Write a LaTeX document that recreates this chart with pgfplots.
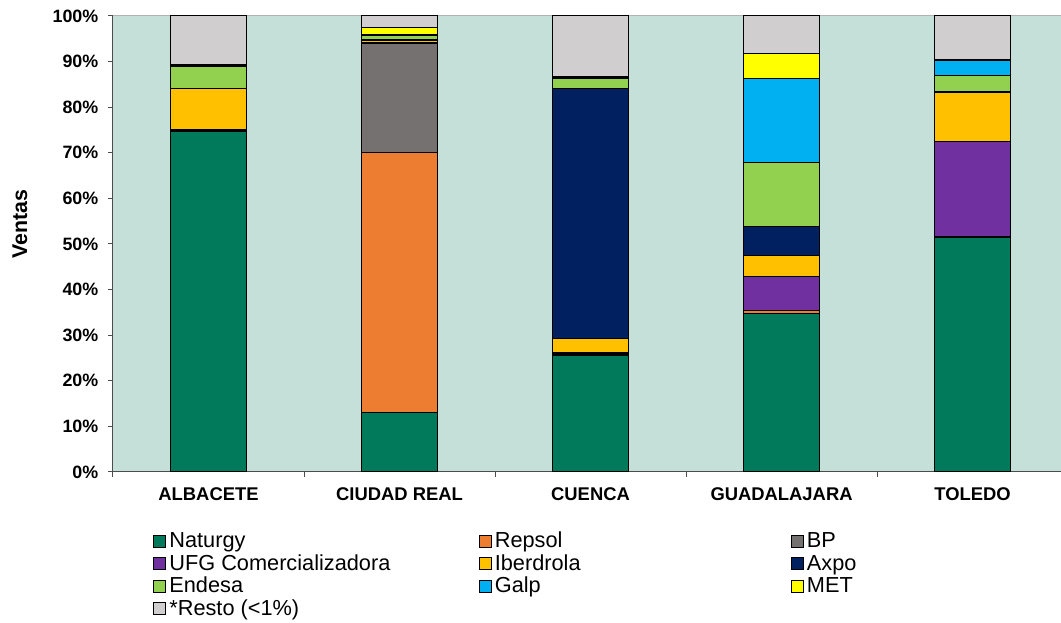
\documentclass[border=0pt]{standalone}
\usepackage{pgfplots}
\pgfplotsset{compat=1.18}
\usepackage{pgfplotstable}
\usepackage{fontspec}
\setmainfont{Liberation Sans}
\definecolor{bgc}{RGB}{197,224,216}
\definecolor{cNat}{RGB}{0,122,90}
\definecolor{cRep}{RGB}{237,125,49}
\definecolor{cBP}{RGB}{118,113,113}
\definecolor{cUFG}{RGB}{112,48,160}
\definecolor{cIbe}{RGB}{255,192,0}
\definecolor{cAxp}{RGB}{0,32,96}
\definecolor{cEnd}{RGB}{146,208,80}
\definecolor{cGal}{RGB}{0,176,240}
\definecolor{cMET}{RGB}{255,255,0}
\definecolor{cRes}{RGB}{208,206,206}

\pgfplotstableread{
x Naturgy Repsol BP UFG Iberdrola Axpo Endesa Galp MET Resto
0 74.6 0.2 0.1 0.2 9.0 0.1 4.8 0.2 0.1 10.7
1 13.0 57.1 23.8 0.3 0.4 0.3 0.8 0.2 1.5 2.6
2 25.6 0.2 0.1 0.2 3.2 54.8 2.2 0.3 0.2 13.2
3 34.8 0.6 0.0 7.4 4.6 6.5 14.0 18.3 5.6 8.2
4 51.4 0.2 0.1 20.8 10.8 0.1 3.5 3.4 0.1 9.6
}\datatable

\newcommand{\LE}[2]{\hspace{2.5pt}\makebox[#1][l]{#2}}

\begin{document}
\begin{tikzpicture}
\begin{axis}[
  scale only axis,
  width=711pt, height=342pt,
  xmin=-0.5, xmax=4.463,
  ymin=0, ymax=100,
  ybar stacked, bar width=0.4,
  axis x line*=bottom, axis y line*=left,
  axis line style={draw=black!70, line width=0.75pt},
  axis background/.style={fill=bgc},
  tick align=outside,
  tick style={draw=black!70, line width=0.75pt},
  xtick={0,1,2,3,4},
  xticklabels={ALBACETE,CIUDAD REAL,CUENCA,GUADALAJARA,TOLEDO},
  minor xtick={-0.5,0.5,1.5,2.5,3.5},
  major x tick style={draw=none},
  minor x tick style={draw=black!70, line width=0.75pt},
  minor tick length=3.75pt,
  ytick={0,10,...,100},
  major tick length=3.75pt,
  yticklabel={\pgfmathprintnumber{\tick}\%},
  /pgf/number format/assume math mode=true,
  yticklabel style={font=\bfseries\fontsize{13.4}{15}\selectfont, xshift=-3.75pt},
  xticklabel style={font=\bfseries\fontsize{13.8}{16}\selectfont, yshift=-4.5pt},
  ylabel={Ventas},
  ylabel style={font=\bfseries\fontsize{16}{18}\selectfont, at={(axis description cs:-0.0982,0.544)}, anchor=center},
  every axis plot/.append style={draw=black, line width=0.75pt},
  legend image code/.code={\draw[#1, draw=black, line width=0.6pt] (0pt,-2.2pt) rectangle (9pt,6.8pt);},
  legend columns=3,
  legend style={at={(axis description cs:0,0)}, anchor=north west, xshift=30pt, yshift=-45.5pt,
    draw=none, fill=none, inner sep=0pt, column sep=0pt, row sep=0pt,
    font=\fontsize{16.3}{17}\selectfont,
    nodes={inner sep=0pt, text height=11.1pt, text depth=5.8pt}},
  legend cell align=left,
]
\addplot[fill=cNat] table[x=x,y=Naturgy]{\datatable};
\addlegendentry{\LE{232pt}{Naturgy}}
\addplot[fill=cRep] table[x=x,y=Repsol]{\datatable};
\addlegendentry{\LE{222pt}{Repsol}}
\addplot[fill=cBP] table[x=x,y=BP]{\datatable};
\addlegendentry{\LE{60pt}{BP}}
\addplot[fill=cUFG] table[x=x,y=UFG]{\datatable};
\addlegendentry{\LE{232pt}{UFG Comercializadora}}
\addplot[fill=cIbe] table[x=x,y=Iberdrola]{\datatable};
\addlegendentry{\LE{222pt}{Iberdrola}}
\addplot[fill=cAxp] table[x=x,y=Axpo]{\datatable};
\addlegendentry{\LE{60pt}{Axpo}}
\addplot[fill=cEnd] table[x=x,y=Endesa]{\datatable};
\addlegendentry{\LE{232pt}{Endesa}}
\addplot[fill=cGal] table[x=x,y=Galp]{\datatable};
\addlegendentry{\LE{222pt}{Galp}}
\addplot[fill=cMET] table[x=x,y=MET]{\datatable};
\addlegendentry{\LE{60pt}{MET}}
\addplot[fill=cRes] table[x=x,y=Resto]{\datatable};
\addlegendentry{\LE{232pt}{*Resto (<1\%)}}
\draw[black!30, line width=0.75pt] (rel axis cs:0,1) -- (rel axis cs:1,1);
\coordinate (ll) at (rel axis cs:0,0);
\coordinate (ur) at (rel axis cs:1,1);
\end{axis}
\pgfresetboundingbox
\path ([shift={(-84.75pt,-113.25pt)}]ll) rectangle ([shift={(0pt,12pt)}]ur);
\end{tikzpicture}
\end{document}
